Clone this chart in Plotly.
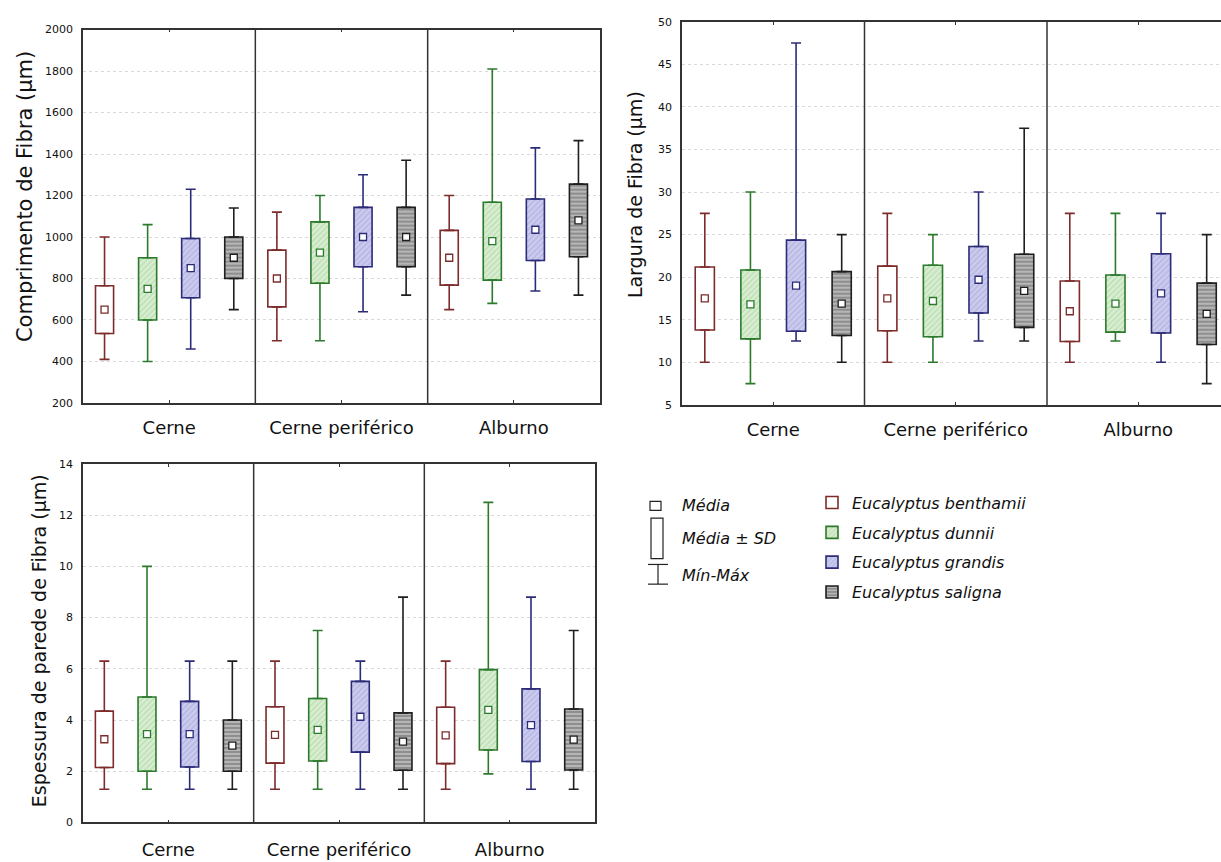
import plotly.graph_objects as go

# ---------------- data ----------------
groups = ["Cerne", "Cerne periférico", "Alburno"]
species = ["Eucalyptus benthamii", "Eucalyptus dunnii", "Eucalyptus grandis", "Eucalyptus saligna"]

# Comprimento de Fibra (µm): rows = species, cols = groups
comp_mean = [[650, 800, 900], [750, 925, 980], [850, 1000, 1035], [900, 1000, 1080]]
comp_sd = [[115, 137, 132], [150, 148, 188], [143, 143, 148], [100, 143, 175]]
comp_min = [[410, 500, 650], [400, 500, 680], [460, 640, 740], [650, 720, 720]]
comp_max = [[1000, 1120, 1200], [1060, 1200, 1810], [1230, 1300, 1430], [1140, 1370, 1465]]

# Largura de Fibra (µm)
larg_mean = [[17.5, 17.5, 16.0], [16.8, 17.2, 16.9], [19.0, 19.7, 18.1], [16.9, 18.4, 15.7]]
larg_sd = [[3.7, 3.8, 3.55], [4.05, 4.2, 3.35], [5.35, 3.9, 4.65], [3.75, 4.3, 3.6]]
larg_min = [[10, 10, 10], [7.5, 10, 12.5], [12.5, 12.5, 10], [10, 12.5, 7.5]]
larg_max = [[27.5, 27.5, 27.5], [30, 25, 27.5], [47.5, 30, 27.5], [25, 37.5, 25]]

# Espessura de parede de Fibra (µm)
esp_mean = [[3.25, 3.42, 3.4], [3.45, 3.62, 4.4], [3.45, 4.13, 3.8], [3.0, 3.16, 3.24]]
esp_sd = [[1.1, 1.1, 1.1], [1.45, 1.22, 1.57], [1.28, 1.38, 1.42], [1.0, 1.12, 1.19]]
esp_min = [[1.3, 1.3, 1.3], [1.3, 1.3, 1.9], [1.3, 1.3, 1.3], [1.3, 1.3, 1.3]]
esp_max = [[6.3, 6.3, 6.3], [10, 7.5, 12.5], [6.3, 6.3, 8.8], [6.3, 8.8, 7.5]]

# ---------------- styles ----------------
W, H = 1221, 862
line_colors = ["#7d2b2b", "#2c7a2c", "#2b2b78", "#1e1e1e"]
fill_colors = ["#ffffff", "#cfe8c6", "#c3c3ea", "#a8a8a8"]
patterns = [
    dict(shape=""),
    dict(shape="/", fgcolor="#9cc793", bgcolor="#d8eed1", size=4, solidity=0.3),
    dict(shape="/", fgcolor="#9a9ad0", bgcolor="#cbcbef", size=4, solidity=0.3),
    dict(shape="-", fgcolor="#e8e8e8", bgcolor="#8e8e8e", size=4, solidity=0.45),
]
offsets = [-0.375, -0.125, 0.125, 0.375]
box_w = 0.105
FONT = "DejaVu Sans"


def px(x):
    return x / W


def py(y):
    return 1 - y / H


panels = [
    dict(xa="x", ya="y", xdom=(83, 600), ydom=(24, 403), yr=[200, 2000], dt=200,
         xr=[-0.5, 2.5], mirror=True, xstand=8,
         mean=comp_mean, sd=comp_sd, mn=comp_min, mx=comp_max,
         title="Comprimento de Fibra (µm)", tx=25, ty=194, tsize=21),
    dict(xa="x2", ya="y2", xdom=(682, 1221), ydom=(16, 405), yr=[5, 50], dt=5,
         xr=[-0.5, -0.5 + 539 / 182.5], mirror=False, xstand=8,
         mean=larg_mean, sd=larg_sd, mn=larg_min, mx=larg_max,
         title="Largura de Fibra (µm)", tx=635, ty=192, tsize=19),
    dict(xa="x3", ya="y3", xdom=(83, 595), ydom=(465, 829), yr=[0, 14], dt=2,
         xr=[-0.5, 2.5], mirror=True, xstand=10,
         mean=esp_mean, sd=esp_sd, mn=esp_min, mx=esp_max,
         title="Espessura de parede de Fibra (µm)", tx=39, ty=645, tsize=19),
]

fig = go.Figure()
layout = dict(width=W, height=H, margin=dict(l=0, r=0, t=0, b=0), autosize=False,
              paper_bgcolor="white", plot_bgcolor="white", barmode="overlay",
              showlegend=True)
shapes = []
annotations = []

# bars first (drawn below scatter layer)
for pi, p in enumerate(panels):
    for si, sp in enumerate(species):
        xs = [g + offsets[si] for g in range(len(groups))]
        m = p["mean"][si]
        s = p["sd"][si]
        fig.add_trace(go.Bar(
            x=xs, y=[2 * v for v in s], base=[a - b for a, b in zip(m, s)],
            width=box_w, xaxis=p["xa"], yaxis=p["ya"],
            name=sp, legendgroup=sp, showlegend=(pi == 0),
            marker=dict(color=fill_colors[si], line=dict(color=line_colors[si], width=1.6),
                        pattern=patterns[si]),
            hoverinfo="skip"))

for pi, p in enumerate(panels):
    for si, sp in enumerate(species):
        xs = [g + offsets[si] for g in range(len(groups))]
        m = p["mean"][si]
        s = p["sd"][si]
        hi = [a + b for a, b in zip(m, s)]
        lo = [a - b for a, b in zip(m, s)]
        mx = p["mx"][si]
        mn = p["mn"][si]
        # whiskers (Min-Max) from box edges
        fig.add_trace(go.Scatter(
            x=xs + xs, y=hi + lo, mode="markers", xaxis=p["xa"], yaxis=p["ya"],
            marker=dict(size=1, color="rgba(0,0,0,0)"), showlegend=False, hoverinfo="skip",
            error_y=dict(type="data", symmetric=False,
                         array=[a - b for a, b in zip(mx, hi)] + [0] * len(lo),
                         arrayminus=[0] * len(hi) + [a - b for a, b in zip(lo, mn)],
                         color=line_colors[si], thickness=1.6, width=5)))
        # mean markers
        fig.add_trace(go.Scatter(
            x=xs, y=m, mode="markers", xaxis=p["xa"], yaxis=p["ya"], showlegend=False,
            hoverinfo="skip",
            marker=dict(symbol="square", size=7, color="white",
                        line=dict(color=line_colors[si], width=1.3))))

for pi, p in enumerate(panels):
    xk = "xaxis" if pi == 0 else "xaxis%d" % (pi + 1)
    yk = "yaxis" if pi == 0 else "yaxis%d" % (pi + 1)
    layout[xk] = dict(domain=[px(p["xdom"][0]), px(p["xdom"][1])], range=p["xr"],
                      anchor=p["ya"], tickvals=list(range(len(groups))), ticktext=groups,
                      ticks="inside", ticklen=3, tickcolor="#333", showline=True,
                      linecolor="#333", linewidth=1.5, mirror="allticks",
                      showgrid=False, zeroline=False, ticklabelstandoff=p["xstand"],
                      tickfont=dict(family=FONT, size=18, color="#111"), fixedrange=True)
    layout[yk] = dict(domain=[py(p["ydom"][1]), py(p["ydom"][0])], range=p["yr"],
                      anchor=p["xa"], tick0=p["yr"][0], dtick=p["dt"], showgrid=True,
                      gridcolor="#d9d9d9", griddash="dot", gridwidth=1, showline=True,
                      linecolor="#333", linewidth=1.5, mirror=p["mirror"], ticks="",
                      zeroline=False, ticklabelstandoff=6,
                      tickfont=dict(family=FONT, size=11, color="#111"), fixedrange=True)
    for d in [0.5, 1.5]:
        shapes.append(dict(type="line", xref=p["xa"], yref=p["ya"] + " domain",
                           x0=d, x1=d, y0=0, y1=1, line=dict(color="#333", width=1.5)))
    annotations.append(dict(text=p["title"], xref="paper", yref="paper",
                            x=px(p["tx"]), y=py(p["ty"]), xanchor="center", yanchor="middle",
                            textangle=-90, showarrow=False,
                            font=dict(family=FONT, size=p["tsize"], color="#111")))

# key for box elements
key_line = dict(color="#222", width=1.2)
shapes += [
    dict(type="rect", xref="paper", yref="paper", x0=px(650), x1=px(661), y0=py(512), y1=py(503), line=key_line),
    dict(type="rect", xref="paper", yref="paper", x0=px(651), x1=px(663), y0=py(561), y1=py(520), line=key_line),
    dict(type="line", xref="paper", yref="paper", x0=px(648), x1=px(668), y0=py(567), y1=py(567), line=key_line),
    dict(type="line", xref="paper", yref="paper", x0=px(658), x1=px(658), y0=py(567), y1=py(587), line=key_line),
    dict(type="line", xref="paper", yref="paper", x0=px(648), x1=px(668), y0=py(587), y1=py(587), line=key_line),
]
for txt, yy in [("Média", 507), ("Média ± SD", 541), ("Mín-Máx", 578)]:
    annotations.append(dict(text=txt, xref="paper", yref="paper", x=px(680), y=py(yy),
                            xanchor="left", yanchor="middle", showarrow=False,
                            font=dict(family=FONT, size=16, style="italic", color="#111")))

layout["shapes"] = shapes
layout["annotations"] = annotations
layout["legend"] = dict(x=px(812), y=py(487), xanchor="left", yanchor="top",
                        font=dict(family=FONT, size=16, style="italic", color="#111"),
                        bgcolor="rgba(0,0,0,0)", tracegroupgap=6, itemwidth=30)
fig.update_layout(**layout)
fig.write_html("out.html", config={"displayModeBar": False},
               post_script="document.body.style.margin='0px';document.body.style.overflow='hidden';")
